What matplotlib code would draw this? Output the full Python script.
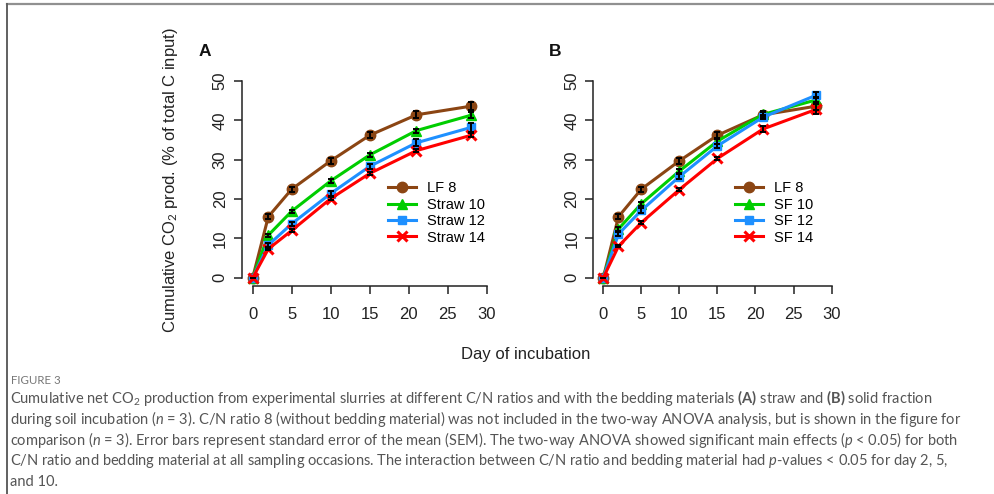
import matplotlib
matplotlib.use("Agg")
import matplotlib.pyplot as plt
from matplotlib.lines import Line2D

plt.rcParams['font.family'] = ['Liberation Sans', 'DejaVu Sans']
plt.rcParams['mathtext.fontset'] = 'custom'
plt.rcParams['mathtext.rm'] = 'Lato'
plt.rcParams['mathtext.it'] = 'Lato:italic'
plt.rcParams['mathtext.bf'] = 'Lato:bold'

# ---------------- data ----------------
days = [0, 2, 5, 10, 15, 21, 28]

lf8 = [0, 15.5, 22.5, 29.7, 36.2, 41.4, 43.6]
lf8_se = [0, 0.7, 0.6, 0.8, 0.8, 0.9, 1.1]

straw10 = [0, 10.8, 16.9, 24.6, 31.2, 37.4, 41.3]
straw10_se = [0, 0.4, 0.4, 0.5, 0.4, 0.5, 0.7]
straw12 = [0, 8.3, 13.7, 21.4, 28.3, 34.3, 38.2]
straw12_se = [0, 0.4, 0.5, 0.6, 0.7, 0.9, 1.1]
straw14 = [0, 7.3, 12.0, 20.1, 26.5, 32.3, 36.2]
straw14_se = [0, 0.3, 0.4, 0.4, 0.3, 0.4, 0.5]

sf10 = [0, 12.4, 18.8, 27.1, 34.7, 41.5, 45.2]
sf10_se = [0, 0.5, 0.5, 0.6, 0.6, 0.5, 0.7]
sf12 = [0, 11.1, 17.1, 25.7, 33.5, 40.8, 46.4]
sf12_se = [0, 0.5, 0.6, 0.6, 0.6, 0.5, 0.8]
sf14 = [0, 8.0, 14.0, 22.4, 30.3, 37.8, 42.8]
sf14_se = [0, 0.3, 0.3, 0.4, 0.4, 0.7, 1.3]

labels_a = ["LF 8", "Straw 10", "Straw 12", "Straw 14"]
labels_b = ["LF 8", "SF 10", "SF 12", "SF 14"]
xticks = [0, 5, 10, 15, 20, 25, 30]
yticks = [0, 10, 20, 30, 40, 50]

colors = ["#8B4513", "#00CD00", "#1E90FF", "#FF0000"]
markers = ["o", "^", "s", "x"]
msizes = [7.5, 6.5, 5.5, 7]

W, H = 994, 494
fig = plt.figure(figsize=(W / 100, H / 100), dpi=100)


def fx(x):
    return x / W


def fy(y):
    return 1 - y / H


def make_panel(rect, xmin, series, errs, labels, leg_xy, letter, letter_xy):
    ax = fig.add_axes(rect)
    for vals, se, c, m, ms, lab in zip(series, errs, colors, markers, msizes, labels):
        ax.plot(days, vals, color=c, lw=2.2, marker=m, ms=ms, mew=2.2 if m == "x" else 1,
                mec=c, mfc=c, label=lab, zorder=3)
    for vals, se in zip(series, errs):
        ax.errorbar(days, vals, yerr=se, fmt="none", ecolor="black", elinewidth=1.4,
                    capsize=2.5, capthick=1.4, zorder=4)
    ax.set_xlim(xmin, 30.5)
    ax.set_ylim(-2.03, 52)
    ax.spines['top'].set_visible(False)
    ax.spines['right'].set_visible(False)
    ax.spines['left'].set_bounds(0, 50)
    ax.spines['bottom'].set_bounds(0, 30)
    for s in ['left', 'bottom']:
        ax.spines[s].set_linewidth(1.1)
        ax.spines[s].set_color('#222222')
    ax.set_xticks(xticks)
    ax.set_yticks(yticks)
    ax.tick_params(axis='both', length=6, width=1.1, color='#222222', labelsize=12,
                   labelcolor='#222222')
    ax.tick_params(axis='x', pad=9)
    ax.tick_params(axis='y', pad=4)
    for t in ax.get_yticklabels():
        t.set_rotation(90)
        t.set_va('center')
    ax.patch.set_alpha(0)
    ax.legend(loc='upper left', bbox_to_anchor=(fx(leg_xy[0]), fy(leg_xy[1])),
              bbox_transform=fig.transFigure, frameon=False, fontsize=10.5,
              handlelength=1.9, handletextpad=0.8, labelspacing=0.16, borderpad=0,
              borderaxespad=0)
    fig.text(fx(letter_xy[0]), fy(letter_xy[1]), letter, fontsize=12.5, fontweight='bold',
             ha='center', va='center', color='#111111')
    return ax


axA = make_panel([fx(241.7), fy(285.7), fx(490.6 - 241.7), (285.7 - 73.1) / H], -1.41,
                 [lf8, straw10, straw12, straw14],
                 [lf8_se, straw10_se, straw12_se, straw14_se],
                 labels_a, (388, 181.5), "A", (205, 52))
axB = make_panel([fx(593.3), fy(285.7), fx(835.4 - 593.3), (285.7 - 73.1) / H], -1.31,
                 [lf8, sf10, sf12, sf14],
                 [lf8_se, sf10_se, sf12_se, sf14_se],
                 labels_b, (735, 181.5), "B", (555, 52))

fig.text(fx(171), fy(180), r"Cumulative CO$_2$ prod. (% of total C input)", rotation=90,
         fontsize=12, ha='center', va='center', color='#222222')
fig.text(fx(526), fy(355), "Day of incubation", fontsize=12, ha='center', va='center',
         color='#222222')

# border
fig.add_artist(Line2D([fx(6.5), 1], [fy(4), fy(4)], color='#909090', lw=1.6,
                      transform=fig.transFigure))
fig.add_artist(Line2D([fx(6.5), fx(6.5)], [fy(4), 0], color='#606060', lw=1.4,
                      transform=fig.transFigure))

cap_kw = dict(fontsize=10, family=['Lato', 'DejaVu Sans'], color='#555555', ha='left',
              va='center')
fig.text(fx(11), fy(380), "FIGURE 3", fontsize=8.3, family=['Lato', 'DejaVu Sans'],
         color='#777777', ha='left', va='center')
cap_lines = [
    r"Cumulative net CO$_2$ production from experimental slurries at different C/N ratios and with the bedding materials $\mathbf{(A)}$ straw and $\mathbf{(B)}$ solid fraction",
    r"during soil incubation ($n$ = 3). C/N ratio 8 (without bedding material) was not included in the two-way ANOVA analysis, but is shown in the figure for",
    r"comparison ($n$ = 3). Error bars represent standard error of the mean (SEM). The two-way ANOVA showed significant main effects ($p$ < 0.05) for both",
    r"C/N ratio and bedding material at all sampling occasions. The interaction between C/N ratio and bedding material had $p$-values < 0.05 for day 2, 5,",
    "and 10.",
]
cap_right = [872, 978, 975, 963]
cap_texts = [fig.text(fx(10), fy(398 + 21 * i), line, **cap_kw)
             for i, line in enumerate(cap_lines)]

# one common caption size, chosen to fit the reference line widths on average
fig.canvas.draw()
r = fig.canvas.get_renderer()
sizes = []
for t, right in zip(cap_texts[:4], cap_right):
    w = t.get_window_extent(renderer=r).width
    sizes.append(10 * (right - 10) / w)
common = sum(sizes) / len(sizes)
for t in cap_texts:
    t.set_fontsize(common)

fig.savefig("out.png", dpi=100)
